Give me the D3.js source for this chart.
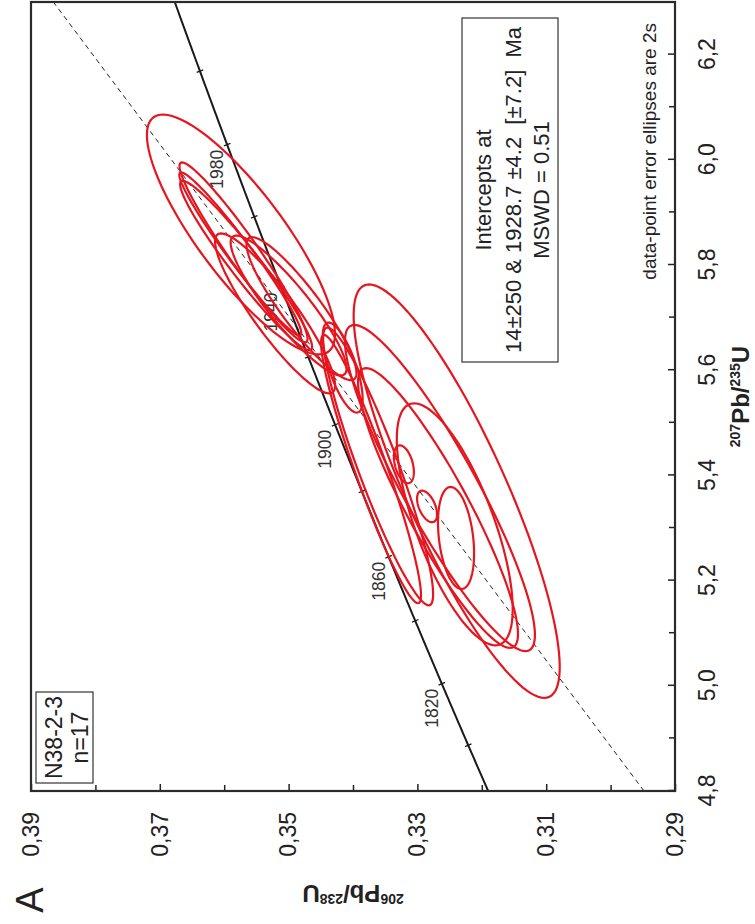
<!DOCTYPE html>
<meta charset="utf-8">
<script src="https://d3js.org/d3.v7.min.js"></script>
<style>
  body { margin: 0; background: #fff; }
  text { font-family: "Liberation Sans", Arial, sans-serif; }
</style>
<div id="chart"></div>
<script>
  // ellipse data: 207Pb/235U, 206Pb/238U, 2s errors and error correlation
  var r75 = [5.858, 5.824, 5.821, 5.799, 5.708, 5.723, 5.717, 5.605, 5.417, 5.412, 5.421, 5.376, 5.370, 5.338, 5.341, 5.307, 5.281];
  var s75 = [0.228, 0.171, 0.155, 0.161, 0.152, 0.133, 0.136, 0.0855, 0.264, 0.255, 0.036, 0.310, 0.393, 0.266, 0.030, 0.230, 0.097];
  var r68 = [0.3574, 0.3570, 0.3575, 0.3566, 0.3521, 0.3500, 0.3480, 0.3416, 0.3361, 0.3372, 0.3321, 0.3265, 0.3239, 0.3268, 0.3285, 0.3242, 0.3240];
  var s68 = [0.0146, 0.00994, 0.00947, 0.01025, 0.00932, 0.0090, 0.00854, 0.0031, 0.00854, 0.00776, 0.00155, 0.01475, 0.0160, 0.01242, 0.00155, 0.0090, 0.0028];
  var rho = [0.83, 0.96, 0.97, 0.96, 0.9, 0.9, 0.9, 0.7, 0.92, 0.94, 0.4, 0.9, 0.85, 0.9, 0.5, 0.7, 0.3];

  // axis ticks
  var xMajor = [4.8, 5.0, 5.2, 5.4, 5.6, 5.8, 6.0, 6.2];
  var xMinor = [4.9, 5.1, 5.3, 5.5, 5.7, 5.9, 6.1];
  var yMajor = [0.29, 0.31, 0.33, 0.35, 0.37, 0.39];
  var yMinor = [0.30, 0.32, 0.34, 0.36, 0.38];

  // concordia ages (Ma)
  var concTicks = [1800, 1820, 1840, 1860, 1880, 1900, 1920, 1940, 1960, 1980, 2000];
  var concLabels = [1820, 1860, 1900, 1940, 1980];
  var intercepts = [14, 1928.7];

  var l235 = 9.8485e-10, l238 = 1.55125e-10;
  function c75(t) { return Math.exp(l235 * t * 1e6) - 1; }
  function c68(t) { return Math.exp(l238 * t * 1e6) - 1; }

  var plotW = 789, plotH = 644;

  var svg = d3.select("#chart").append("svg")
    .attr("width", 755)
    .attr("height", 924);

  // the whole diagram is turned 90 degrees counter-clockwise
  var g = svg.append("g")
    .attr("transform", "translate(31,791) rotate(-90)");

  var x = d3.scaleLinear().domain([4.8, 6.3]).range([0, plotW]);
  var y = d3.scaleLinear().domain([0.29, 0.39]).range([plotH, 0]);

  g.append("clipPath").attr("id", "clip")
    .append("rect").attr("width", plotW).attr("height", plotH);

  var fmt1 = function (d) { return d3.format(".1f")(d).replace(".", ","); };
  var fmt2 = function (d) { return d3.format(".2f")(d).replace(".", ","); };

  function styleAxis(a) {
    a.select(".domain").remove();
    a.attr("font-size", 23).attr("font-family", "Liberation Sans, Arial, sans-serif");
    a.selectAll("line").attr("stroke", "#222").attr("stroke-width", 1.5);
    a.selectAll("text").attr("fill", "#222");
  }

  // X axis
  g.append("g")
    .attr("transform", "translate(0," + plotH + ")")
    .call(d3.axisBottom(x).tickValues(xMajor).tickSize(-7).tickPadding(24).tickFormat(fmt1))
    .call(styleAxis);
  g.append("g")
    .attr("transform", "translate(0," + plotH + ")")
    .call(d3.axisBottom(x).tickValues(xMinor).tickSize(-6).tickFormat(""))
    .call(styleAxis);

  // Y axis
  g.append("g")
    .call(d3.axisLeft(y).tickValues(yMajor).tickSize(-7).tickPadding(21).tickFormat(fmt2))
    .call(styleAxis);
  g.append("g")
    .call(d3.axisLeft(y).tickValues(yMinor).tickSize(-6).tickFormat(""))
    .call(styleAxis);

  // discordia (dashed)
  var p1 = [c75(intercepts[0]), c68(intercepts[0])];
  var p2 = [c75(intercepts[1]), c68(intercepts[1])];
  var slope = (p2[1] - p1[1]) / (p2[0] - p1[0]);
  var disc = x.domain().map(function (v) { return [x(v), y(p1[1] + slope * (v - p1[0]))]; });
  g.append("path")
    .attr("clip-path", "url(#clip)")
    .attr("d", d3.line()(disc))
    .attr("fill", "none")
    .attr("stroke", "#222")
    .attr("stroke-width", 1)
    .attr("stroke-dasharray", "5,4");

  // concordia curve
  var conc = d3.range(1700, 2101, 1).map(function (t) { return [x(c75(t)), y(c68(t))]; });
  g.append("path")
    .attr("clip-path", "url(#clip)")
    .attr("d", d3.line()(conc))
    .attr("fill", "none")
    .attr("stroke", "#1a1a1a")
    .attr("stroke-width", 2);

  concTicks.forEach(function (t) {
    var a = [x(c75(t - 1)), y(c68(t - 1))], b = [x(c75(t + 1)), y(c68(t + 1))];
    var dx = b[0] - a[0], dy = b[1] - a[1], len = Math.sqrt(dx * dx + dy * dy);
    var nx = -dy / len, ny = dx / len;
    var px = x(c75(t)), py = y(c68(t));
    g.append("line")
      .attr("x1", px - nx * 3.5).attr("y1", py - ny * 3.5)
      .attr("x2", px + nx * 3.5).attr("y2", py + ny * 3.5)
      .attr("stroke", "#1a1a1a").attr("stroke-width", 1.3);
  });

  g.selectAll(".agelab")
    .data(concLabels)
    .enter()
    .append("text")
    .attr("x", function (t) { return x(c75(t)) - 5; })
    .attr("y", function (t) { return y(c68(t)) - 4; })
    .attr("text-anchor", "end")
    .attr("font-size", 17.5)
    .attr("fill", "#333")
    .text(function (t) { return t; });

  // error ellipses
  var line = d3.line().curve(d3.curveLinearClosed);
  r75.forEach(function (cx, i) {
    var pts = d3.range(0, 120).map(function (k) {
      var a = 2 * Math.PI * k / 120, c = Math.cos(a), s = Math.sin(a);
      var px = cx + s75[i] * c;
      var py = r68[i] + s68[i] * (rho[i] * c + Math.sqrt(1 - rho[i] * rho[i]) * s);
      return [x(px), y(py)];
    });
    g.append("path")
      .attr("d", line(pts))
      .attr("fill", "none")
      .attr("stroke", "#e5161f")
      .attr("stroke-width", 2.2);
  });

  // frame
  g.append("rect")
    .attr("width", plotW).attr("height", plotH)
    .attr("fill", "none").attr("stroke", "#2a2a2a").attr("stroke-width", 2.2);

  // sample box
  g.append("rect")
    .attr("x", 8).attr("y", 5).attr("width", 91).attr("height", 57)
    .attr("fill", "none").attr("stroke", "#333").attr("stroke-width", 1.2);
  g.append("text").attr("x", 53.5).attr("y", 31).attr("text-anchor", "middle")
    .attr("font-size", 23).attr("fill", "#222").text("N38-2-3");
  g.append("text").attr("x", 53.5).attr("y", 57).attr("text-anchor", "middle")
    .attr("font-size", 23).attr("fill", "#222").text("n=17");

  // intercepts box
  g.append("rect")
    .attr("x", 429).attr("y", 431).attr("width", 344).attr("height", 96)
    .attr("fill", "none").attr("stroke", "#333").attr("stroke-width", 1.2);
  var info = ["Intercepts at", "14±250 & 1928.7 ±4.2  [±7.2]  Ma", "MSWD = 0.51"];
  var infoY = [460, 490, 518];
  info.forEach(function (s, i) {
    g.append("text").attr("x", 601).attr("y", infoY[i]).attr("text-anchor", "middle")
      .attr("font-size", 22).attr("fill", "#222")
      .style("white-space", "pre").text(s);
  });

  g.append("text").attr("x", 768).attr("y", 625).attr("text-anchor", "end")
    .attr("font-size", 19).attr("fill", "#222")
    .text("data-point error ellipses are 2s");

  // axis titles
  function isoLabel(t, a, b) {
    t.attr("font-weight", "bold").attr("fill", "#222").attr("text-anchor", "middle");
    t.append("tspan").attr("font-size", 14).attr("dy", -9).text(a);
    t.append("tspan").attr("font-size", 24).attr("dy", 9).text("Pb/");
    t.append("tspan").attr("font-size", 14).attr("dy", -9).text(b);
    t.append("tspan").attr("font-size", 24).attr("dy", 9).text("U");
  }
  g.append("text").attr("x", plotW / 2).attr("y", plotH + 74).call(isoLabel, "207", "235");
  g.append("text").attr("transform", "translate(-94," + (plotH / 2) + ") rotate(-90)")
    .call(isoLabel, "206", "238");

  g.append("text").attr("x", -109).attr("y", 12).attr("text-anchor", "middle")
    .attr("font-size", 38).attr("fill", "#222").text("A");
</script>
